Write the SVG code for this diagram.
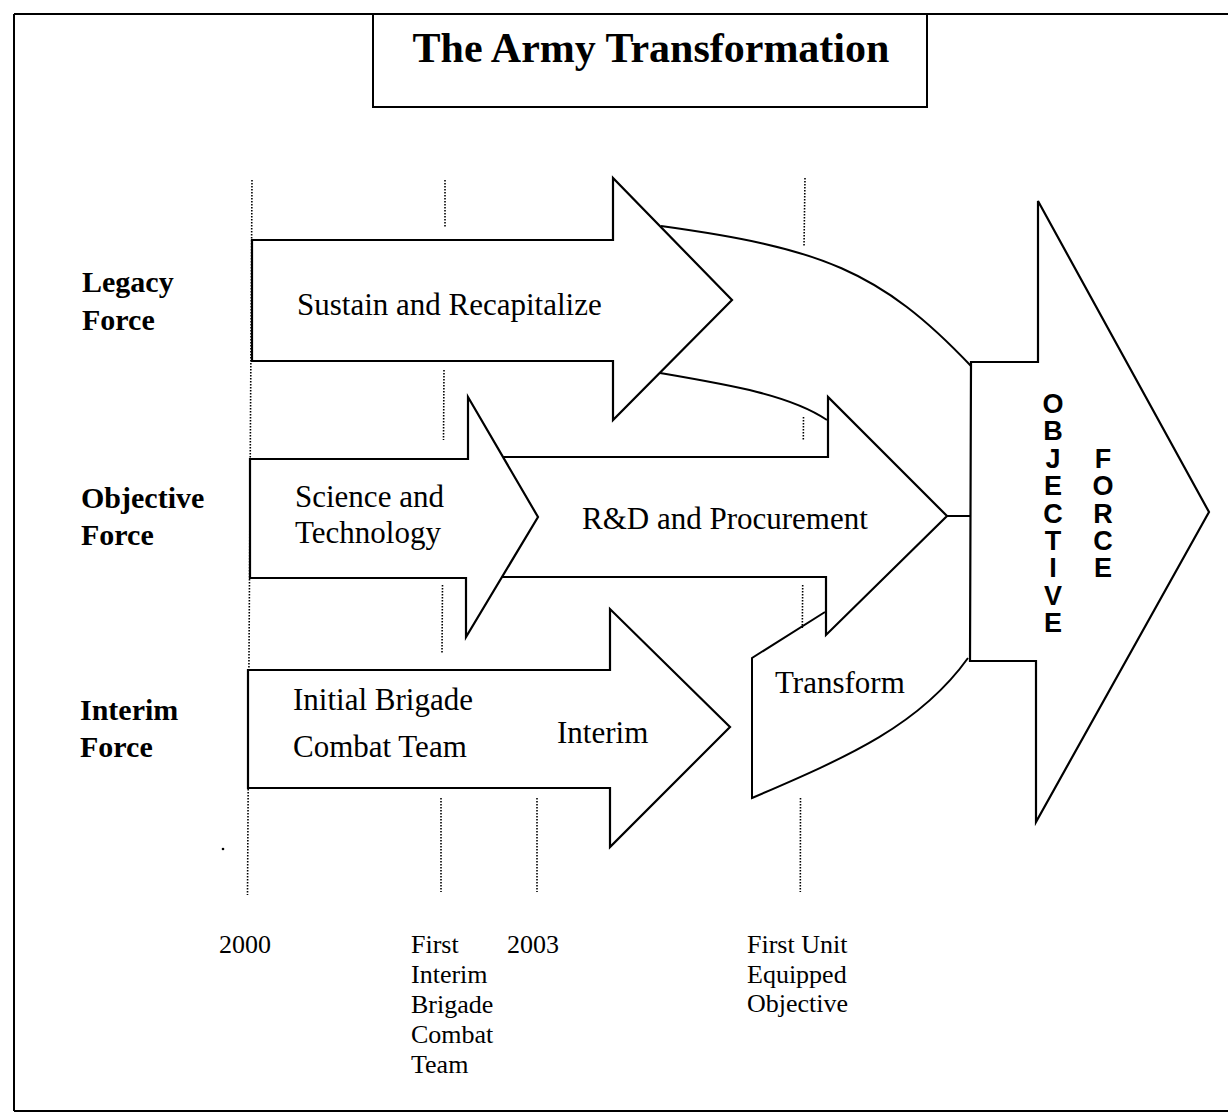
<svg xmlns="http://www.w3.org/2000/svg" width="1228" height="1113" viewBox="0 0 1228 1113">
<style>
.shape{fill:#fff;stroke:#000;stroke-width:2.2;stroke-linejoin:miter}
.line{fill:none;stroke:#000;stroke-width:2}
.dot{fill:none;stroke:#000;stroke-width:1.6;stroke-dasharray:1.6 1.4}
.body{font-family:"Liberation Serif","Times New Roman",serif;font-size:31px;fill:#000}
.lab{font-family:"Liberation Serif","Times New Roman",serif;font-size:30px;font-weight:bold;fill:#000}
.small{font-family:"Liberation Serif","Times New Roman",serif;font-size:26px;fill:#000}
.big{font-family:"Liberation Sans",Arial,sans-serif;font-size:27px;font-weight:bold;fill:#000;text-anchor:middle}
</style>
<rect width="1228" height="1113" fill="#fff"/>
<g id="frame">
<path class="line" d="M14,14 H1228 M14,14 V1111 M14,1111 H1228"/>
</g>
<g id="title">
<rect x="373" y="14" width="554" height="93" fill="#fff" stroke="#000" stroke-width="2"/>
<text x="651" y="62" text-anchor="middle" font-family="Liberation Serif, Times New Roman, serif" font-size="42" font-weight="bold">The Army Transformation</text>
</g>
<g id="timeline">
<line class="dot" x1="252" y1="180" x2="247.5" y2="895"/>
<line class="dot" x1="445" y1="180" x2="445" y2="227"/>
<line class="dot" x1="444" y1="370" x2="443.5" y2="440"/>
<line class="dot" x1="442.5" y1="585" x2="442" y2="653"/>
<line class="dot" x1="441" y1="798" x2="441" y2="892"/>
<line class="dot" x1="537" y1="798" x2="537" y2="892"/>
<line class="dot" x1="805" y1="178" x2="804" y2="247"/>
<line class="dot" x1="803.5" y1="417" x2="803.3" y2="441"/>
<line class="dot" x1="802.7" y1="585" x2="802.3" y2="628"/>
<line class="dot" x1="800.5" y1="798" x2="800.3" y2="892"/>
<circle cx="223" cy="849" r="1.3" fill="#000"/>
</g>
<g id="connectors">
<path class="line" d="M661,226 C820,248 880,270 971,366"/>
<path class="line" d="M660,373 C730,385 790,395 827,420"/>
<path class="line" d="M947,516 H971"/>
</g>
<g id="legacy-arrow">
<polygon class="shape" points="252,240 613,240 613,178 732,300 613,420 613,361 252,361"/>
<text class="body" x="297" y="315">Sustain and Recapitalize</text>
</g>
<g id="rd-arrow">
<polygon class="shape" points="490,457 828,457 828,397 947,516 826,635 826,577 490,577"/>
<text class="body" x="582" y="529">R&amp;D and Procurement</text>
</g>
<g id="st-arrow">
<polygon class="shape" points="250,459 468,459 468,397 538,517 466,637 466,578 250,578"/>
<text class="body" x="295" y="507">Science and</text>
<text class="body" x="295" y="543">Technology</text>
</g>
<g id="interim-arrow">
<polygon class="shape" points="248,670 610,670 610,609 730,727 610,847 610,788 248,788"/>
<text class="body" x="293" y="710">Initial Brigade</text>
<text class="body" x="293" y="757">Combat Team</text>
<text class="body" x="557" y="743">Interim</text>
</g>
<g id="transform">
<path class="line" d="M825,612 L752,658 L752,798 C850,756 920,725 968,658"/>
<text class="body" x="775" y="693">Transform</text>
</g>
<g id="objective-force-arrow">
<polygon class="shape" points="971,362 1038,362 1038,201 1209,512 1036,822 1036,661 970,661"/>
<text class="big" x="1053">
<tspan x="1053" y="413">O</tspan><tspan x="1053" y="440.4">B</tspan><tspan x="1053" y="467.8">J</tspan><tspan x="1053" y="495.2">E</tspan><tspan x="1053" y="522.6">C</tspan><tspan x="1053" y="550">T</tspan><tspan x="1053" y="577.4">I</tspan><tspan x="1053" y="604.8">V</tspan><tspan x="1053" y="632">E</tspan>
</text>
<text class="big" x="1103">
<tspan x="1103" y="468">F</tspan><tspan x="1103" y="495.3">O</tspan><tspan x="1103" y="522.6">R</tspan><tspan x="1103" y="549.9">C</tspan><tspan x="1103" y="577">E</tspan>
</text>
</g>
<g id="row-labels">
<text class="lab" x="82" y="292">Legacy</text>
<text class="lab" x="82" y="329.5">Force</text>
<text class="lab" x="81" y="508">Objective</text>
<text class="lab" x="81" y="545">Force</text>
<text class="lab" x="80" y="720">Interim</text>
<text class="lab" x="80" y="757">Force</text>
</g>
<g id="milestones">
<text class="small" x="219" y="953">2000</text>
<text class="small" x="411" y="953">First</text>
<text class="small" x="411" y="983">Interim</text>
<text class="small" x="411" y="1013">Brigade</text>
<text class="small" x="411" y="1043">Combat</text>
<text class="small" x="411" y="1073">Team</text>
<text class="small" x="507" y="953">2003</text>
<text class="small" x="747" y="953">First Unit</text>
<text class="small" x="747" y="983">Equipped</text>
<text class="small" x="747" y="1012">Objective</text>
</g>
</svg>
